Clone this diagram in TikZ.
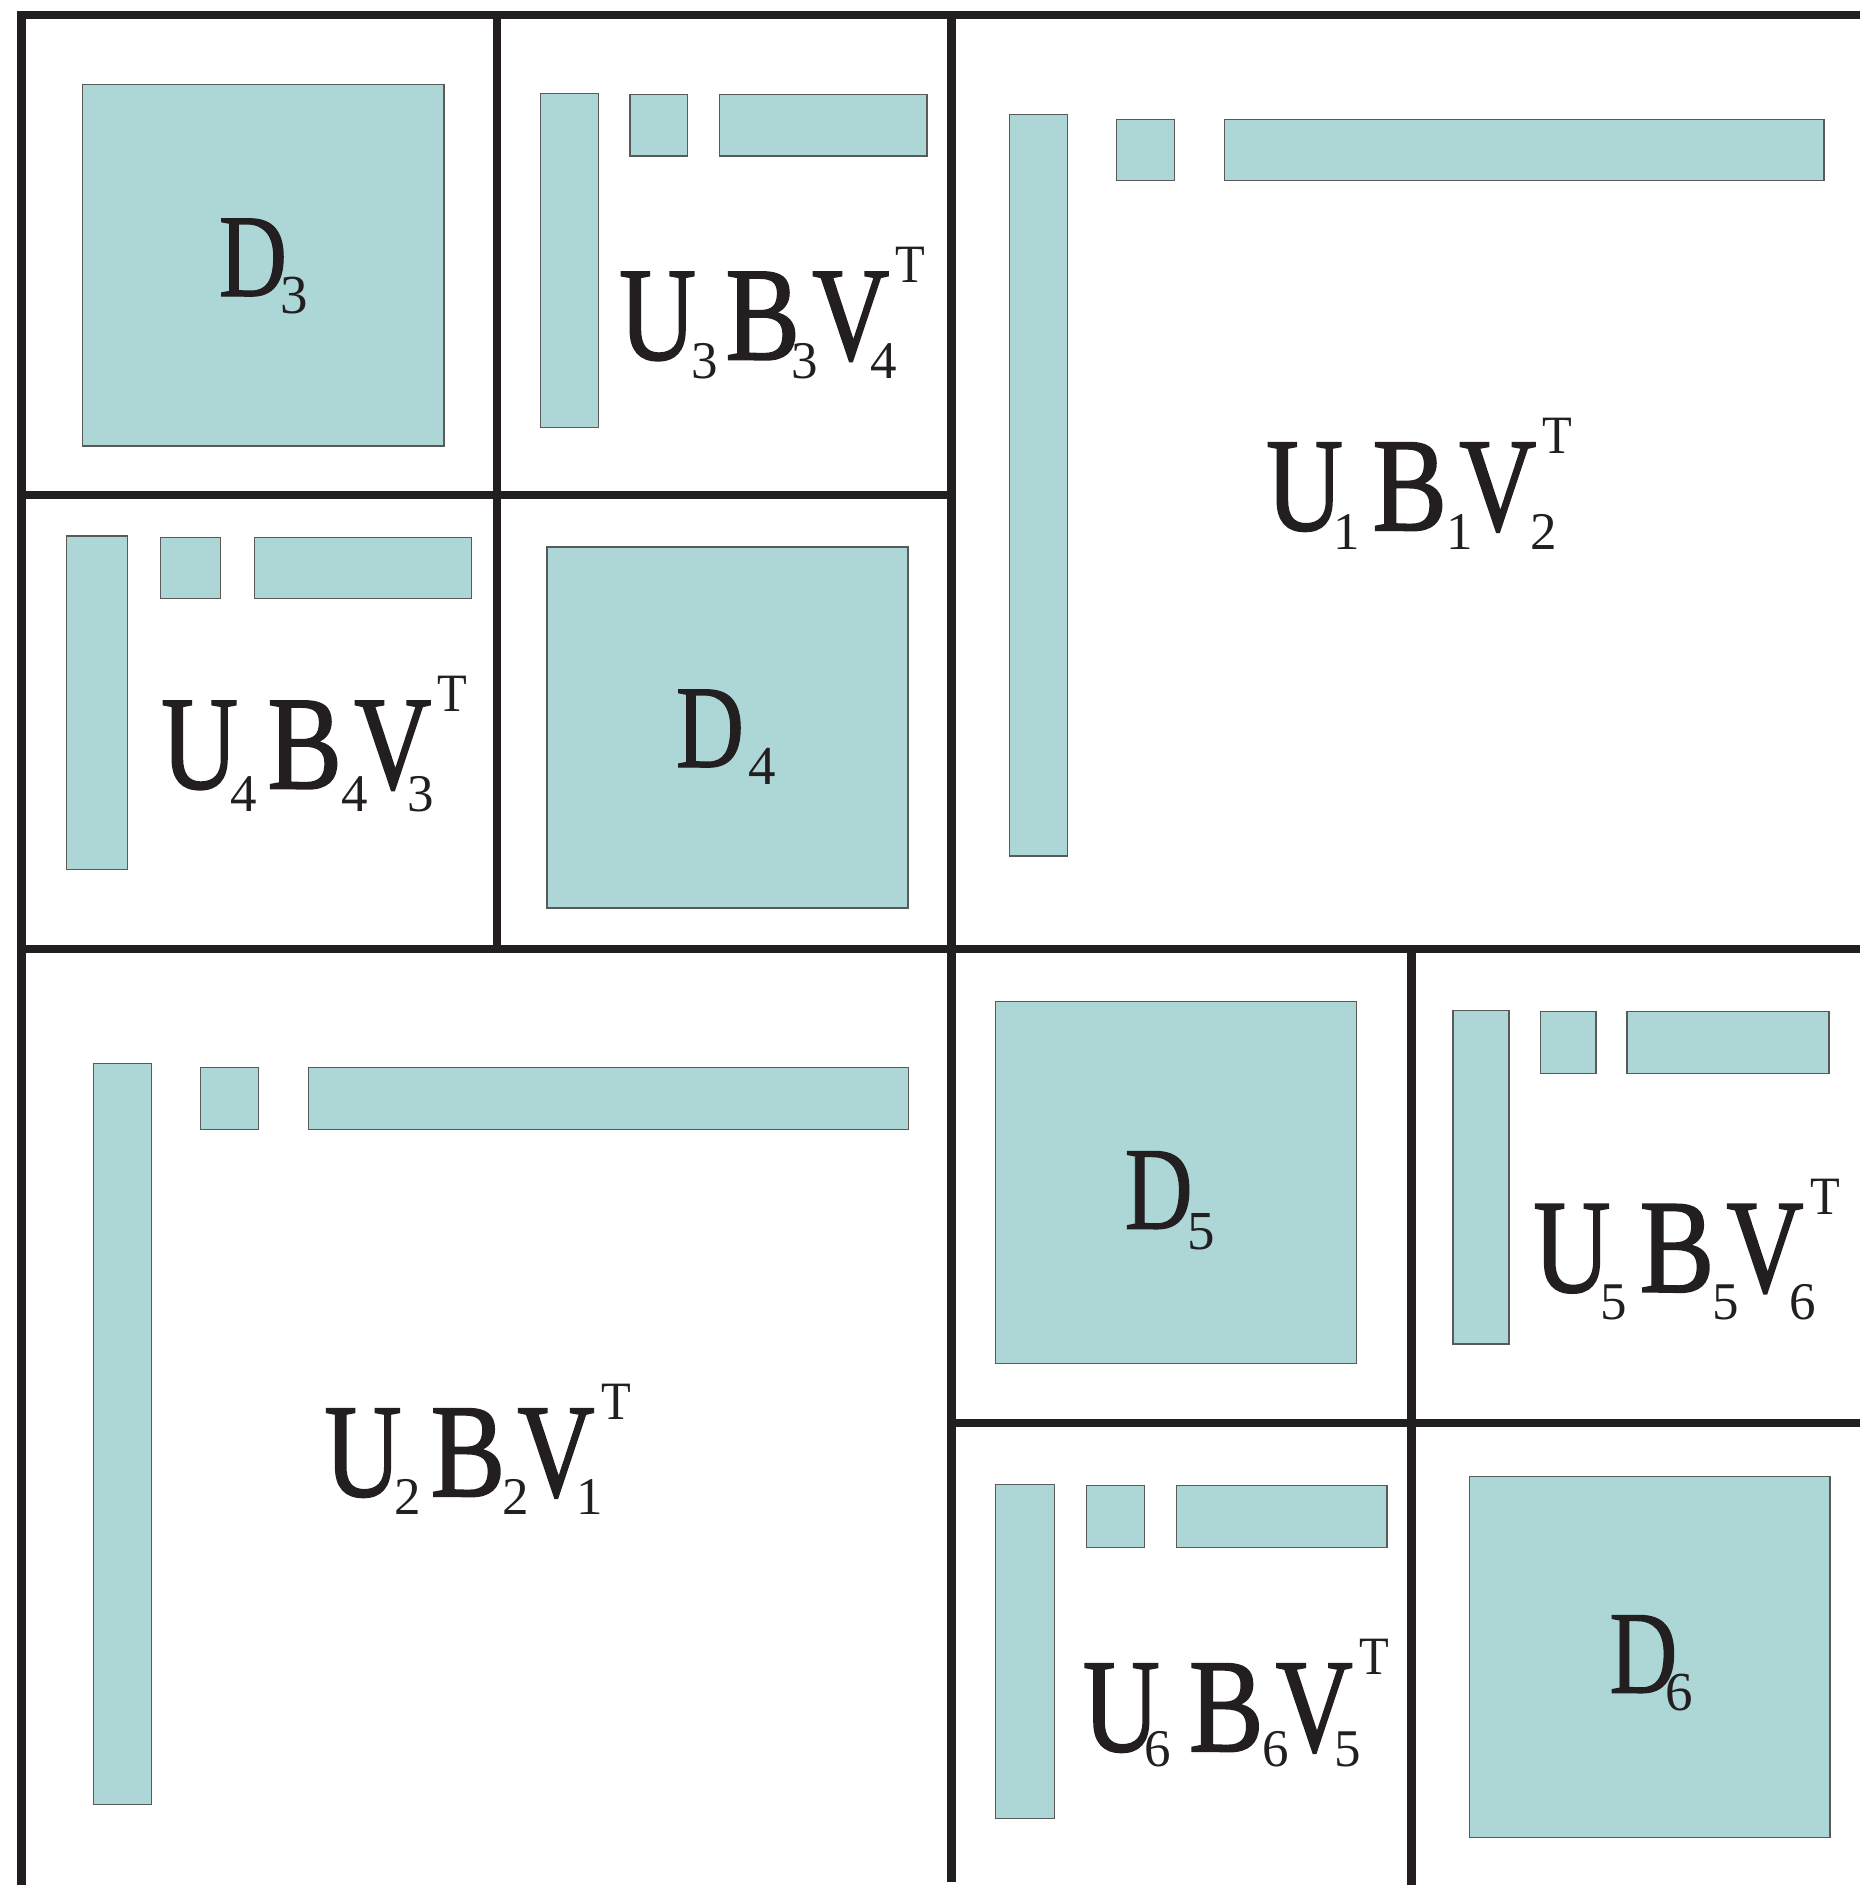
\documentclass[tikz,border=0pt]{standalone}
\usepackage{fontspec}
\setmainfont{Liberation Serif}
\newfontfamily\capsfont[FakeBold=1.5]{Liberation Serif}
\newfontfamily\dcapsfont[FakeBold=1.0]{Liberation Serif}
\usepackage{graphicx}
\definecolor{ink}{RGB}{35,31,32}
\definecolor{blockfill}{RGB}{173,214,214}
\newdimen\pxu \pxu=0.25pt
\newcommand\bigf{\capsfont\fontsize{33.3pt}{36pt}\selectfont}
\newcommand\dfnt{\dcapsfont\fontsize{29.5pt}{32pt}\selectfont}
\newcommand\subf{\fontsize{13.25pt}{15pt}\selectfont}
\newcommand\dsubf{\fontsize{13.75pt}{15pt}\selectfont}
\newcommand\supf{\fontsize{13.5pt}{15pt}\selectfont}
% glyph centred at #1 px from the label start, raised by #2 px
\newcommand\gl[3]{\rlap{\kern#1\pxu\makebox[0pt]{\raisebox{#2\pxu}{#3}}}}
% #1 drop, #2-#4 digits, #5-#7 digit centres
\newcommand\ubvtext[7]{\hbox{%
  \gl{37}{0}{\bigf\scalebox{0.8}[1]{U}}%
  \gl{#5}{-#1}{\subf #2}%
  \gl{142}{0}{\bigf\scalebox{0.84}[1]{B}}%
  \gl{#6}{-#1}{\subf #3}%
  \gl{230}{0}{\bigf\scalebox{0.8}[1]{V}}%
  \gl{#7}{-#1}{\subf #4}%
  \gl{290}{77}{\supf\scalebox{0.9}[1]{T}}%
  \kern304\pxu}}
% #1 digit, #2 digit centre, #3 drop
\newcommand\dtext[3]{\hbox{%
  \gl{33}{0}{\dfnt\scalebox{0.8}[1]{D}}%
  \gl{#2}{-#3}{\dsubf #1}%
  \kern87\pxu}}
\tikzset{
  gridline/.style={line width=2.125pt, draw=ink},
  blk/.style={fill=blockfill, draw=black!65, line width=0.3pt},
  lbl/.style={inner sep=0pt, outer sep=0pt, anchor=base west, text=ink},
}
\begin{document}
\begin{tikzpicture}[x=0.25pt,y=-0.25pt]
\useasboundingbox (0,0) rectangle (1860,1885);
% diagonal blocks
\draw[blk] (82.3,84.3) rectangle (444,446);
\draw[blk] (547,547) rectangle (908,908);
\draw[blk] (995.3,1001.3) rectangle (1356.7,1363.3);
\draw[blk] (1469.2,1476.3) rectangle (1830,1837.3);
% U3 B3 V4
\draw[blk] (540.3,93.3) rectangle (598.3,427.3);
\draw[blk] (630,94.3) rectangle (687.7,156);
\draw[blk] (719.3,94.3) rectangle (927,156);
% U4 B4 V3
\draw[blk] (66.7,536) rectangle (127.3,869.3);
\draw[blk] (160.7,537.3) rectangle (220.7,598.7);
\draw[blk] (254.3,537.3) rectangle (471.7,598.7);
% U1 B1 V2
\draw[blk] (1009.3,114.3) rectangle (1067.3,856);
\draw[blk] (1116.7,119.3) rectangle (1174.7,180.7);
\draw[blk] (1224.3,119.3) rectangle (1824,180.7);
% U2 B2 V1
\draw[blk] (93.3,1063.3) rectangle (151.3,1804.6);
\draw[blk] (200.7,1067.7) rectangle (258.7,1129.3);
\draw[blk] (308.3,1067.7) rectangle (908.3,1129.3);
% U5 B5 V6
\draw[blk] (1453,1010.3) rectangle (1509,1344);
\draw[blk] (1540.3,1011.3) rectangle (1596,1073.3);
\draw[blk] (1627,1011.3) rectangle (1829,1073.3);
% U6 B6 V5
\draw[blk] (995.7,1484.3) rectangle (1054.3,1818.3);
\draw[blk] (1086.3,1485.7) rectangle (1144.7,1547.3);
\draw[blk] (1176.7,1485.7) rectangle (1387,1547.3);
% grid
\draw[gridline] (1860,15) -- (21.7,15) -- (21.7,1885);
\draw[gridline] (497,15) -- (497,949);
\draw[gridline] (21.7,495) -- (951.5,495);
\draw[gridline] (21.7,949) -- (1860,949);
\draw[gridline] (951.5,15) -- (951.5,1882);
\draw[gridline] (951.5,1423) -- (1860,1423);
\draw[gridline] (1411.5,949) -- (1411.5,1885);
% labels
\node[lbl] (d3) at (220,296) {\dtext{3}{74.5}{17}};
\node[lbl] (d4) at (677,767) {\dtext{4}{85}{17}};
\node[lbl] (d5) at (1125.7,1228.7) {\dtext{5}{75.3}{20.6}};
\node[lbl] (d6) at (1610.4,1692.7) {\dtext{6}{69}{17.3}};
\node[lbl] (ubv34) at (620.7,359.3) {\ubvtext{19}{3}{3}{4}{84}{184}{263.5}};
\node[lbl] (ubv43) at (162.7,788.3) {\ubvtext{23}{4}{4}{3}{81}{192.5}{258.5}};
\node[lbl] (ubv12) at (1267.7,530) {\ubvtext{19.5}{1}{1}{2}{79}{192.5}{276}};
\node[lbl] (ubv21) at (326,1496) {\ubvtext{18}{2}{2}{1}{82}{189.5}{264}};
\node[lbl] (ubv56) at (1535,1291.7) {\ubvtext{28}{5}{5}{6}{79}{190.5}{268}};
\node[lbl] (ubv65) at (1084.3,1751) {\ubvtext{15}{6}{6}{5}{73.7}{191}{263.7}};
\end{tikzpicture}
\end{document}
